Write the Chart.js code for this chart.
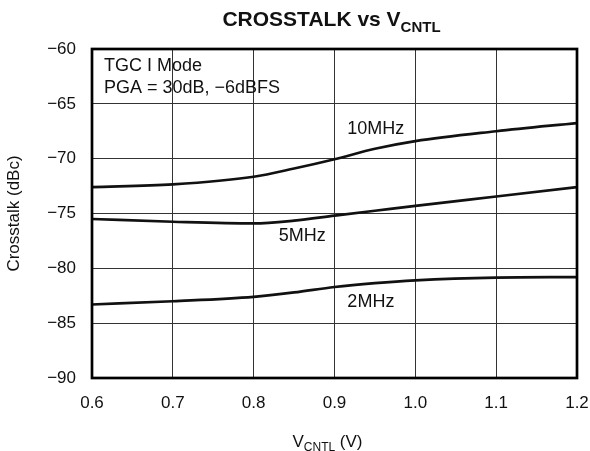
<!DOCTYPE html>
<html>
<head>
<meta charset="utf-8">
<script src="https://cdn.jsdelivr.net/npm/chart.js@4"></script>
<style>
    html, body { margin: 0; padding: 0; background: #fff; }
    #wrap { width: 590px; height: 451px; }
</style>
</head>
<body>
<div id="wrap"><canvas id="crosstalkChart" width="590" height="451"></canvas></div>
<script>
const vcntl = [0.6, 0.7, 0.8, 0.85, 0.9, 0.95, 1.0, 1.1, 1.2];
const mhz10 = [-72.6, -72.35, -71.65, -70.9, -70.05, -69.1, -68.4, -67.5, -66.75];
const mhz5 = [-75.5, -75.75, -75.9, -75.65, -75.2, -74.75, -74.3, -73.45, -72.6];
const mhz2 = [-83.3, -83.0, -82.6, -82.2, -81.7, -81.35, -81.1, -80.85, -80.8];
const seriesNames = ["10MHz", "5MHz", "2MHz"];
const xTicks = [0.6, 0.7, 0.8, 0.9, 1.0, 1.1, 1.2];
const yTicks = [-90, -85, -80, -75, -70, -65, -60];

// where each curve label sits, in data units
const labelSpots = [
    { text: "10MHz", x: 0.951, y: -67.3 },
    { text: "5MHz", x: 0.860, y: -77.05 },
    { text: "2MHz", x: 0.945, y: -83.05 }
];

const font = "'Liberation Sans', Arial, Helvetica, sans-serif";
const ink = "#111";

function minusSign(v) {
    return v < 0 ? "\u2212" + Math.abs(v) : String(v);
}

function toPoints(ys) {
    return vcntl.map((x, i) => ({ x: x, y: ys[i] }));
}

// text with a subscript part, centred on cx
function subText(ctx, main, sub, tail, cx, cy, size, subSize, drop, weight) {
    const mainFont = `${weight} ${size}px ${font}`;
    const subFont = `${weight} ${subSize}px ${font}`;
    ctx.font = mainFont;
    const w1 = ctx.measureText(main).width;
    const w3 = ctx.measureText(tail).width;
    ctx.font = subFont;
    const w2 = ctx.measureText(sub).width;
    let x = cx - (w1 + w2 + w3) / 2;
    ctx.textAlign = "left";
    ctx.textBaseline = "alphabetic";
    ctx.font = mainFont;
    ctx.fillText(main, x, cy);
    x += w1;
    ctx.font = subFont;
    ctx.fillText(sub, x, cy + drop);
    x += w2;
    ctx.font = mainFont;
    ctx.fillText(tail, x, cy);
}

const decor = {
    id: "decor",
    afterDraw(chart) {
        const ctx = chart.ctx;
        const area = chart.chartArea;
        const xs = chart.scales.x;
        const ys = chart.scales.y;
        const mid = (area.left + area.right) / 2;
        ctx.save();
        ctx.fillStyle = ink;

        ctx.lineWidth = 2.7;
        ctx.strokeStyle = "#000";
        ctx.strokeRect(area.left, area.top, area.right - area.left, area.bottom - area.top);

        // baselines given here
        subText(ctx, "CROSSTALK vs V", "CNTL", "", mid - 3, 26, 21, 15, 6, "bold");
        subText(ctx, "V", "CNTL", " (V)", mid - 7, 447, 17, 12, 4, "normal");

        ctx.font = `18px ${font}`;
        ctx.textAlign = "left";
        ctx.textBaseline = "middle";
        ctx.fillText("TGC I Mode", area.left + 12, 66);
        ctx.fillText("PGA = 30dB, \u22126dBFS", area.left + 12, 88);

        ctx.textAlign = "center";
        labelSpots.forEach(s => {
            ctx.fillText(s.text, xs.getPixelForValue(s.x), ys.getPixelForValue(s.y));
        });
        ctx.restore();
    }
};

const lineStyle = {
    borderColor: "#111",
    borderWidth: 2.7,
    pointRadius: 0,
    fill: false,
    cubicInterpolationMode: "monotone"
};

new Chart(document.getElementById("crosstalkChart"), {
    type: "line",
    data: {
        datasets: [
            Object.assign({ label: seriesNames[0], data: toPoints(mhz10) }, lineStyle),
            Object.assign({ label: seriesNames[1], data: toPoints(mhz5) }, lineStyle),
            Object.assign({ label: seriesNames[2], data: toPoints(mhz2) }, lineStyle)
        ]
    },
    options: {
        responsive: false,
        animation: false,
        events: [],
        layout: { padding: { top: 49, right: 13, left: 0, bottom: 0 } },
        plugins: {
            legend: { display: false },
            tooltip: { enabled: false }
        },
        scales: {
            x: {
                type: "linear",
                min: xTicks[0],
                max: xTicks[xTicks.length - 1],
                afterBuildTicks: scale => { scale.ticks = xTicks.map(v => ({ value: v })); },
                afterFit: scale => {
                    scale.height = 73;
                    scale.paddingLeft = 0;
                    scale.paddingRight = 0;
                },
                grid: { color: "#333", lineWidth: 1, drawTicks: false },
                border: { display: false },
                ticks: {
                    padding: 15,
                    color: ink,
                    font: { family: font, size: 17 },
                    callback: v => v.toFixed(1)
                }
            },
            y: {
                min: yTicks[0],
                max: yTicks[yTicks.length - 1],
                afterBuildTicks: scale => { scale.ticks = yTicks.map(v => ({ value: v })); },
                afterFit: scale => {
                    scale.width = 92;
                    scale.paddingTop = 0;
                    scale.paddingBottom = 0;
                },
                grid: { color: "#333", lineWidth: 1, drawTicks: false },
                border: { display: false },
                title: {
                    display: true,
                    text: "Crosstalk (dBc)",
                    color: ink,
                    font: { family: font, size: 17 },
                    padding: { top: 4, bottom: 0 }
                },
                ticks: {
                    padding: 16,
                    color: ink,
                    font: { family: font, size: 17 },
                    callback: v => minusSign(v)
                }
            }
        }
    },
    plugins: [decor]
});
</script>
</body>
</html>
